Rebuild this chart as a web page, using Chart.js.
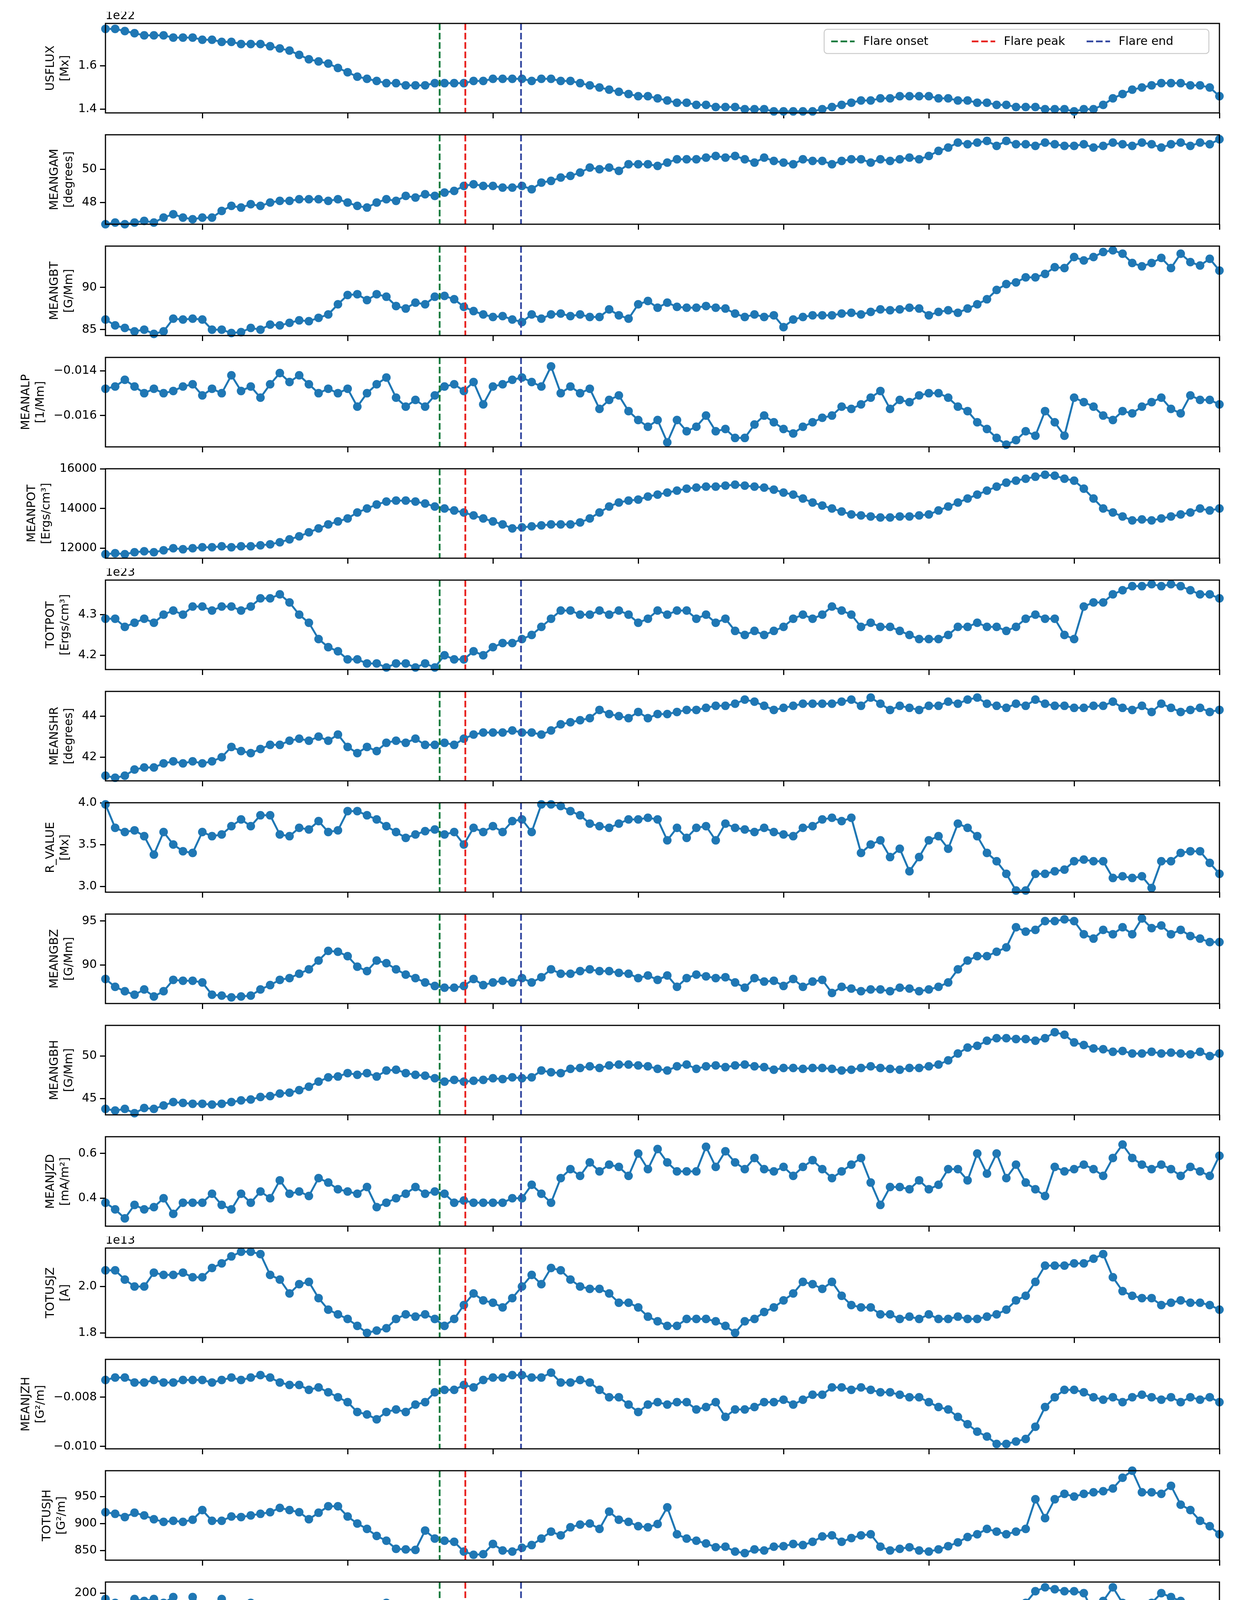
<!DOCTYPE html>
<html><head><meta charset="utf-8">
<script src="https://cdn.jsdelivr.net/npm/chart.js@4.4.0/dist/chart.umd.min.js"></script>
<style>html,body{margin:0;padding:0;background:#fff;}#wrap{position:relative;width:3167px;height:4685px;}canvas{position:absolute;left:0;}</style>
</head><body><div id="wrap"></div>
<script>
const xTicks=[3,6,9,12,15,18,21,24];
const xTickLabels=['03:00','06:00','09:00','12:00','15:00','18:00','21:00','00:00'];
const flareTimes=[7.9,8.43,9.58];
const flareNames=['Flare onset','Flare peak','Flare end'];
const flareColors=['#157a3c','#e8201c','#3347a0'];

const usflux=[1.77,1.77,1.76,1.75,1.74,1.74,1.74,1.73,1.73,1.73,1.72,1.72,1.71,1.71,1.70,1.70,1.70,1.69,1.68,1.67,1.65,1.63,1.62,1.61,1.59,1.57,1.55,1.54,1.53,1.52,1.52,1.51,1.51,1.51,1.52,1.52,1.52,1.52,1.53,1.53,1.54,1.54,1.54,1.54,1.53,1.54,1.54,1.53,1.53,1.52,1.51,1.50,1.49,1.48,1.47,1.46,1.46,1.45,1.44,1.43,1.43,1.42,1.42,1.41,1.41,1.41,1.40,1.40,1.40,1.39,1.39,1.39,1.39,1.39,1.40,1.41,1.42,1.43,1.44,1.44,1.45,1.45,1.46,1.46,1.46,1.46,1.45,1.45,1.44,1.44,1.43,1.43,1.42,1.42,1.41,1.41,1.41,1.40,1.40,1.40,1.39,1.40,1.40,1.42,1.45,1.47,1.49,1.50,1.51,1.52,1.52,1.52,1.51,1.51,1.50,1.46];
const meangam=[46.7,46.8,46.7,46.8,46.9,46.8,47.1,47.3,47.1,47.0,47.1,47.1,47.5,47.8,47.7,47.9,47.8,48.0,48.1,48.1,48.2,48.2,48.2,48.1,48.2,48.0,47.8,47.7,48.0,48.2,48.1,48.4,48.3,48.5,48.4,48.6,48.7,49.0,49.1,49.0,49.0,48.9,48.9,49.0,48.8,49.2,49.3,49.5,49.6,49.8,50.1,50.0,50.1,49.9,50.3,50.3,50.3,50.2,50.4,50.6,50.6,50.6,50.7,50.8,50.7,50.8,50.6,50.4,50.7,50.5,50.4,50.3,50.6,50.5,50.5,50.3,50.5,50.6,50.6,50.4,50.6,50.5,50.6,50.7,50.6,50.8,51.1,51.3,51.6,51.5,51.6,51.7,51.4,51.7,51.5,51.5,51.4,51.6,51.5,51.4,51.4,51.5,51.3,51.4,51.6,51.5,51.4,51.6,51.5,51.3,51.5,51.6,51.4,51.6,51.5,51.8];
const meangbt=[86.2,85.5,85.2,84.8,85.0,84.5,84.8,86.3,86.2,86.3,86.2,85.0,85.0,84.6,84.7,85.2,85.0,85.6,85.5,85.8,86.1,86.0,86.4,86.8,88.0,89.1,89.2,88.5,89.2,88.9,87.8,87.5,88.2,88.0,88.9,89.0,88.6,87.7,87.2,86.8,86.5,86.6,86.2,85.9,86.8,86.3,86.8,86.9,86.6,86.8,86.5,86.5,87.4,86.7,86.3,88.0,88.4,87.6,88.2,87.7,87.6,87.6,87.8,87.6,87.5,86.9,86.5,86.8,86.5,86.7,85.3,86.2,86.5,86.7,86.7,86.7,86.9,87.0,86.8,87.1,87.4,87.3,87.4,87.6,87.5,86.7,87.1,87.3,87.0,87.5,88.0,88.6,89.7,90.4,90.6,91.2,91.2,91.6,92.4,92.3,93.6,93.2,93.6,94.2,94.4,94.0,92.9,92.5,92.9,93.5,92.3,94.0,93.0,92.6,93.4,92.0];
const meanalp=[-0.0148,-0.0147,-0.0144,-0.0147,-0.0150,-0.0148,-0.0150,-0.0149,-0.0147,-0.0146,-0.0151,-0.0148,-0.0150,-0.0142,-0.0149,-0.0147,-0.0152,-0.0146,-0.0141,-0.0145,-0.0142,-0.0146,-0.0150,-0.0148,-0.0150,-0.0148,-0.0156,-0.0150,-0.0146,-0.0143,-0.0152,-0.0156,-0.0153,-0.0156,-0.0151,-0.0147,-0.0146,-0.0149,-0.0145,-0.0155,-0.0147,-0.0146,-0.0144,-0.0143,-0.0145,-0.0147,-0.0138,-0.0150,-0.0147,-0.0150,-0.0148,-0.0157,-0.0153,-0.0151,-0.0158,-0.0162,-0.0165,-0.0162,-0.0172,-0.0162,-0.0167,-0.0165,-0.0160,-0.0167,-0.0166,-0.0170,-0.0170,-0.0164,-0.0160,-0.0163,-0.0166,-0.0168,-0.0165,-0.0163,-0.0161,-0.0160,-0.0156,-0.0157,-0.0155,-0.0152,-0.0149,-0.0157,-0.0153,-0.0154,-0.0151,-0.0150,-0.0150,-0.0152,-0.0156,-0.0158,-0.0163,-0.0166,-0.0170,-0.0173,-0.0171,-0.0167,-0.0169,-0.0158,-0.0163,-0.0169,-0.0152,-0.0154,-0.0156,-0.0160,-0.0162,-0.0158,-0.0159,-0.0156,-0.0154,-0.0152,-0.0157,-0.0159,-0.0151,-0.0153,-0.0153,-0.0155];
const meanpot=[11700,11750,11700,11800,11850,11800,11900,12000,11950,12000,12050,12050,12100,12050,12100,12100,12150,12200,12300,12450,12600,12800,13000,13200,13350,13500,13800,14000,14200,14350,14400,14400,14350,14250,14100,14000,13900,13800,13650,13500,13350,13200,13000,13050,13100,13150,13200,13200,13200,13300,13500,13800,14100,14300,14400,14450,14600,14700,14800,14900,15000,15050,15100,15100,15150,15200,15150,15100,15050,14950,14800,14700,14500,14300,14150,14000,13850,13700,13650,13600,13550,13550,13600,13600,13650,13700,13900,14100,14300,14500,14700,14900,15100,15300,15400,15500,15600,15700,15650,15500,15400,15000,14500,14000,13800,13600,13400,13450,13400,13500,13600,13700,13800,14000,13900,14000];
const totpot=[4.29,4.29,4.27,4.28,4.29,4.28,4.30,4.31,4.30,4.32,4.32,4.31,4.32,4.32,4.31,4.32,4.34,4.34,4.35,4.33,4.30,4.28,4.24,4.22,4.21,4.19,4.19,4.18,4.18,4.17,4.18,4.18,4.17,4.18,4.17,4.20,4.19,4.19,4.21,4.20,4.22,4.23,4.23,4.24,4.25,4.27,4.29,4.31,4.31,4.30,4.30,4.31,4.30,4.31,4.30,4.28,4.29,4.31,4.30,4.31,4.31,4.29,4.30,4.28,4.29,4.26,4.25,4.26,4.25,4.26,4.27,4.29,4.30,4.29,4.30,4.32,4.31,4.30,4.27,4.28,4.27,4.27,4.26,4.25,4.24,4.24,4.24,4.25,4.27,4.27,4.28,4.27,4.27,4.26,4.27,4.29,4.30,4.29,4.29,4.25,4.24,4.32,4.33,4.33,4.35,4.36,4.37,4.37,4.375,4.37,4.375,4.37,4.36,4.35,4.35,4.34];
const meanshr=[41.1,41.0,41.1,41.4,41.5,41.5,41.7,41.8,41.7,41.8,41.7,41.8,42.0,42.5,42.3,42.2,42.4,42.6,42.6,42.8,42.9,42.8,43.0,42.8,43.1,42.5,42.2,42.5,42.3,42.7,42.8,42.7,42.9,42.6,42.6,42.7,42.6,42.9,43.1,43.2,43.2,43.2,43.3,43.2,43.2,43.1,43.3,43.6,43.7,43.8,43.9,44.3,44.1,44.0,43.9,44.2,43.9,44.1,44.1,44.2,44.3,44.3,44.4,44.5,44.5,44.6,44.8,44.7,44.5,44.3,44.4,44.5,44.6,44.6,44.6,44.6,44.7,44.8,44.5,44.9,44.6,44.3,44.5,44.4,44.3,44.5,44.5,44.7,44.6,44.8,44.9,44.6,44.5,44.4,44.6,44.5,44.8,44.6,44.5,44.5,44.4,44.4,44.5,44.5,44.7,44.4,44.3,44.5,44.2,44.6,44.4,44.2,44.3,44.4,44.2,44.3];
const rvalue=[3.98,3.70,3.65,3.67,3.60,3.38,3.65,3.50,3.42,3.40,3.65,3.60,3.62,3.72,3.80,3.72,3.85,3.85,3.62,3.60,3.70,3.68,3.78,3.65,3.67,3.90,3.90,3.85,3.80,3.72,3.65,3.58,3.62,3.66,3.68,3.62,3.65,3.50,3.70,3.65,3.72,3.65,3.78,3.80,3.65,3.98,3.98,3.96,3.90,3.85,3.75,3.72,3.70,3.75,3.80,3.80,3.82,3.80,3.55,3.70,3.58,3.70,3.72,3.55,3.75,3.70,3.68,3.65,3.70,3.65,3.62,3.60,3.70,3.72,3.80,3.82,3.78,3.82,3.40,3.50,3.55,3.35,3.45,3.18,3.35,3.55,3.60,3.45,3.75,3.70,3.60,3.40,3.30,3.15,2.95,2.95,3.15,3.15,3.18,3.20,3.30,3.32,3.30,3.30,3.10,3.12,3.10,3.12,2.98,3.30,3.30,3.40,3.42,3.42,3.28,3.15];
const meangbz=[88.4,87.5,87.0,86.6,87.2,86.4,87.0,88.3,88.2,88.2,88.0,86.6,86.5,86.3,86.4,86.5,87.2,87.7,88.3,88.5,89.0,89.5,90.5,91.6,91.5,91.0,89.8,89.3,90.5,90.2,89.5,88.9,88.5,88.0,87.6,87.4,87.4,87.6,88.4,87.7,88.0,88.2,88.0,88.5,88.0,88.6,89.5,89.0,89.0,89.3,89.5,89.3,89.3,89.1,89.0,88.5,88.8,88.3,88.8,87.5,88.5,88.9,88.7,88.5,88.6,88.0,87.4,88.5,88.1,88.2,87.6,88.4,87.5,88.1,88.3,86.8,87.5,87.3,87.0,87.2,87.2,87.0,87.4,87.3,87.0,87.2,87.5,88.0,89.5,90.5,91.0,91.0,91.5,92.0,94.3,93.8,94.0,95.0,95.0,95.2,95.0,93.5,93.0,94.0,93.5,94.3,93.5,95.3,94.2,94.5,93.5,94.0,93.3,93.0,92.6,92.6];
const meangbh=[43.8,43.6,43.8,43.3,43.9,43.8,44.2,44.6,44.5,44.4,44.4,44.3,44.4,44.6,44.8,44.9,45.2,45.3,45.6,45.7,46.0,46.4,47.0,47.5,47.6,48.0,47.8,48.0,47.6,48.3,48.4,48.0,47.8,47.7,47.4,47.0,47.2,47.0,47.1,47.2,47.4,47.3,47.5,47.4,47.5,48.3,48.1,48.0,48.5,48.6,48.8,48.6,48.9,49.0,49.0,48.9,48.8,48.5,48.3,48.8,49.0,48.5,48.8,48.9,48.7,48.9,49.0,48.8,48.7,48.4,48.6,48.6,48.5,48.6,48.6,48.5,48.3,48.4,48.6,48.8,48.6,48.5,48.4,48.6,48.6,48.8,49.0,49.5,50.3,51.0,51.2,51.8,52.1,52.1,52.0,52.0,51.8,52.1,52.8,52.5,51.6,51.3,50.9,50.8,50.5,50.6,50.3,50.3,50.5,50.3,50.4,50.3,50.2,50.5,50.0,50.3];
const meanjzd=[0.38,0.35,0.31,0.37,0.35,0.36,0.40,0.33,0.38,0.38,0.38,0.42,0.37,0.35,0.42,0.38,0.43,0.40,0.48,0.42,0.43,0.41,0.49,0.47,0.44,0.43,0.42,0.45,0.36,0.38,0.40,0.42,0.45,0.42,0.43,0.42,0.38,0.39,0.38,0.38,0.38,0.38,0.40,0.40,0.46,0.42,0.38,0.49,0.53,0.50,0.56,0.52,0.55,0.54,0.50,0.60,0.53,0.62,0.56,0.52,0.52,0.52,0.63,0.54,0.61,0.56,0.53,0.58,0.53,0.52,0.54,0.50,0.54,0.57,0.53,0.49,0.52,0.55,0.58,0.47,0.37,0.45,0.45,0.44,0.48,0.44,0.46,0.53,0.53,0.48,0.60,0.51,0.60,0.49,0.55,0.47,0.44,0.41,0.54,0.52,0.53,0.55,0.53,0.50,0.58,0.64,0.58,0.55,0.53,0.55,0.53,0.50,0.54,0.52,0.50,0.59];
const totusjz=[2.07,2.07,2.03,2.00,2.00,2.06,2.05,2.05,2.06,2.04,2.04,2.08,2.10,2.13,2.15,2.15,2.14,2.05,2.03,1.97,2.01,2.02,1.95,1.90,1.88,1.86,1.83,1.80,1.81,1.82,1.86,1.88,1.87,1.88,1.86,1.83,1.86,1.92,1.97,1.94,1.93,1.91,1.95,2.00,2.05,2.01,2.08,2.07,2.03,2.00,1.99,1.99,1.97,1.93,1.93,1.91,1.87,1.85,1.83,1.83,1.86,1.86,1.86,1.85,1.83,1.80,1.85,1.86,1.89,1.91,1.94,1.97,2.02,2.01,1.99,2.02,1.96,1.92,1.91,1.91,1.88,1.88,1.86,1.87,1.86,1.88,1.86,1.86,1.87,1.86,1.86,1.87,1.88,1.90,1.94,1.96,2.02,2.09,2.09,2.09,2.10,2.10,2.12,2.14,2.04,1.98,1.96,1.95,1.95,1.92,1.93,1.94,1.93,1.93,1.92,1.90];
const meanjzh=[-0.0073,-0.0072,-0.0072,-0.0074,-0.0074,-0.0073,-0.0074,-0.0074,-0.0073,-0.0073,-0.0073,-0.0074,-0.0073,-0.0072,-0.0073,-0.0072,-0.0071,-0.0072,-0.0074,-0.0075,-0.0075,-0.0077,-0.0076,-0.0078,-0.0080,-0.0082,-0.0086,-0.0087,-0.0089,-0.0086,-0.0085,-0.0086,-0.0083,-0.0082,-0.0078,-0.0077,-0.0077,-0.0075,-0.0076,-0.0073,-0.0072,-0.0072,-0.0071,-0.0071,-0.0072,-0.0072,-0.0070,-0.0074,-0.0074,-0.0073,-0.0074,-0.0077,-0.0080,-0.0080,-0.0083,-0.0086,-0.0083,-0.0082,-0.0083,-0.0082,-0.0082,-0.0085,-0.0084,-0.0082,-0.0088,-0.0085,-0.0085,-0.0084,-0.0082,-0.0082,-0.0081,-0.0083,-0.0081,-0.0079,-0.0079,-0.0076,-0.0076,-0.0077,-0.0076,-0.0077,-0.0078,-0.0078,-0.0079,-0.0080,-0.0080,-0.0082,-0.0084,-0.0085,-0.0088,-0.0091,-0.0094,-0.0096,-0.0099,-0.0099,-0.0098,-0.0097,-0.0092,-0.0084,-0.0080,-0.0077,-0.0077,-0.0078,-0.0080,-0.0081,-0.0080,-0.0082,-0.0080,-0.0079,-0.0080,-0.0081,-0.0080,-0.0082,-0.0080,-0.0081,-0.0080,-0.0082];
const totusjh=[921,918,912,920,915,908,903,905,903,907,925,905,905,913,912,915,918,921,929,925,921,908,920,932,932,913,900,890,877,868,853,852,851,887,872,868,866,848,842,843,862,850,848,855,860,872,885,878,893,898,900,890,922,907,903,895,893,899,930,880,872,868,863,856,857,848,845,852,850,857,858,862,860,866,876,878,866,873,878,880,857,850,853,856,850,848,852,858,865,875,880,890,885,880,885,890,945,910,945,955,950,955,958,960,965,985,998,958,958,955,970,935,925,905,895,880];
const absnjzh=[197,195,191,197,196,197,195,198,190,198,193,190,197,186,188,195,183,186,181,190,184,181,189,178,188,177,175,190,178,195,190,180,187,182,188,185,177,180,176,185,176,173,172,168,172,170,174,163,176,173,176,172,182,177,173,178,188,178,183,186,177,185,183,172,176,178,174,182,176,175,181,186,181,178,177,176,175,169,173,182,181,178,177,176,169,173,182,177,171,175,177,180,181,183,188,195,201,203,202,201,201,200,190,196,203,195,190,192,195,200,198,196,190,192,193,193];
const savncpp=[8.8,7.4,7.2,7.5,7.5,8.7,8.3,7.0,7.5,7.1,6.8,6.3,6.8,7.6,6.3,6.8,7.0,5.9,6.8,7.0,6.8,7.6,6.5,6.5,6.0,6.3,5.8,5.4,5.5,6.7,7.0,5.5,5.2,6.5,5.8,5.6,5.6,5.6,5.7,5.7,5.6,6.4,6.2,6.3,6.6,6.2,5.5,5.4,5.5,6.2,6.0,5.8,6.5,6.1,6.2,6.2,6.5,6.7,6.8,6.0,6.2,6.6,6.3,5.6,6.3,6.5,6.0,6.5,6.7,5.9,6.6,6.3,6.0,6.5,6.5,6.8,6.3,6.5,7.8,5.8,4.8,5.8,5.6,5.6,5.9,5.3,5.8,6.2,6.4,6.1,5.6,5.2,5.2,5.0,4.9,4.8,5.1,4.7,6.1,6.4,6.5,6.9,8.4,7.8,7.5,7.4,7.3,7.0,6.9,7.1,7.2,7.0,6.8,7.1,7.3,7.4];

const panels=[
 ['USFLUX','[Mx]',usflux,1.383,1.795,[1.4,1.6],1,'1e22'],
 ['MEANGAM','[degrees]',meangam,46.7,52.07,[48,50],0,''],
 ['MEANGBT','[G/Mm]',meangbt,84.3,94.9,[85,90],0,''],
 ['MEANALP','[1/Mm]',meanalp,-0.0174,-0.0134,[-0.016,-0.014],3,''],
 ['MEANPOT','[Ergs/cm³]',meanpot,11500,16000,[12000,14000,16000],0,''],
 ['TOTPOT','[Ergs/cm³]',totpot,4.165,4.385,[4.2,4.3],1,'1e23'],
 ['MEANSHR','[degrees]',meanshr,40.85,45.2,[42,44],0,''],
 ['R_VALUE','[Mx]',rvalue,2.93,4.0,[3.0,3.5,4.0],1,''],
 ['MEANGBZ','[G/Mm]',meangbz,85.6,95.8,[90,95],0,''],
 ['MEANGBH','[G/Mm]',meangbh,43.1,53.6,[45,50],0,''],
 ['MEANJZD','[mA/m²]',meanjzd,0.275,0.675,[0.4,0.6],1,''],
 ['TOTUSJZ','[A]',totusjz,1.78,2.166,[1.8,2.0],1,'1e13'],
 ['MEANJZH','[G²/m]',meanjzh,-0.0101,-0.00646,[-0.010,-0.008],3,''],
 ['TOTUSJH','[G²/m]',totusjh,832,998,[850,900,950],0,''],
 ['ABSNJZH','[G²/m]',absnjzh,160,205.7,[160,180,200],0,''],
 ['SAVNCPP','[A]',savncpp,4.72,8.82,[6,8],0,'1e12']
];

const FONT='"DejaVu Sans", sans-serif';
const wrap=document.getElementById('wrap');
const times=usflux.map((_,i)=>1+i*0.2);

panels.forEach((p,k)=>{
  const [name,unit,arr,ymin,ymax,yt,dec,expo]=p;
  const last=k===panels.length-1;
  const cv=document.createElement('canvas');
  const H=last?380:285;
  cv.width=3167;cv.height=H;
  cv.style.top=(30+285*k)+'px';cv.style.width='3167px';cv.style.height=H+'px';
  wrap.appendChild(cv);
  const fmt=v=>v.toFixed(dec).replace('-','\u2212');
  const deco={id:'deco'+k,
    afterDatasetsDraw(c){
      const ctx=c.ctx,a=c.chartArea,xs=c.scales.x;
      ctx.save();
      ctx.lineWidth=4.5;ctx.setLineDash([17,7]);
      flareTimes.forEach((t,j)=>{const x=xs.getPixelForValue(t);ctx.strokeStyle=flareColors[j];ctx.beginPath();ctx.moveTo(x,a.top);ctx.lineTo(x,a.bottom);ctx.stroke();});
      ctx.setLineDash([]);
      ctx.strokeStyle='#000';ctx.lineWidth=3;ctx.strokeRect(a.left,a.top,a.right-a.left,a.bottom-a.top);
      ctx.fillStyle='#000';ctx.font='30px '+FONT;
      if(expo){ctx.textAlign='left';ctx.textBaseline='bottom';ctx.fillText(expo,a.left,a.top-4);}
      let w=0;yt.forEach(v=>{w=Math.max(w,ctx.measureText(fmt(v)).width);});
      const xr=a.left-14-10-w-14;
      const cy=(a.top+a.bottom)/2;
      [[unit,xr-17],[name,xr-17-37]].forEach(([txt,x])=>{ctx.save();ctx.translate(x,cy);ctx.rotate(-Math.PI/2);ctx.textAlign='center';ctx.textBaseline='middle';ctx.fillText(txt,0,0);ctx.restore();});
      if(k===0){
        ctx.fillStyle='rgba(255,255,255,0.85)';ctx.strokeStyle='#cccccc';ctx.lineWidth=2.5;
        ctx.beginPath();ctx.roundRect(2110,45,985,62,8);ctx.fill();ctx.stroke();
        const sx=[2128,2488,2782];
        flareNames.forEach((n,j)=>{ctx.strokeStyle=flareColors[j];ctx.lineWidth=4.5;ctx.setLineDash([17,7]);ctx.beginPath();ctx.moveTo(sx[j],76);ctx.lineTo(sx[j]+60,76);ctx.stroke();ctx.setLineDash([]);ctx.fillStyle='#000';ctx.textAlign='left';ctx.textBaseline='middle';ctx.fillText(n,sx[j]+82,77);});
      }
      ctx.restore();
    }};
  new Chart(cv,{type:'line',
    data:{datasets:[{data:times.map((t,i)=>({x:t,y:arr[i]})),borderColor:'#1f77b4',backgroundColor:'#1f77b4',borderWidth:5,pointRadius:11,pointBorderWidth:0,pointHoverRadius:11,tension:0,clip:14}]},
    options:{responsive:false,devicePixelRatio:1,animation:false,
      layout:{padding:{left:0,right:45,top:30,bottom:0}},
      plugins:{legend:{display:false},tooltip:{enabled:false}},
      scales:{
        x:{type:'linear',min:1,max:24,afterFit:s=>{s.height=last?112:17;},
          afterBuildTicks:s=>{s.ticks=xTicks.map(v=>({value:v}));},
          ticks:{display:last,autoSkip:false,maxRotation:0,color:'#000',font:{family:FONT,size:30},padding:4,callback:(v)=>xTickLabels[xTicks.indexOf(v)]},
          grid:{drawOnChartArea:false,drawTicks:true,tickLength:14,tickWidth:3,tickColor:'#000'},
          border:{display:false},
          title:{display:last,text:'Time (UT)',color:'#000',font:{family:FONT,size:30},padding:{top:6,bottom:4}}},
        y:{min:ymin,max:ymax,afterFit:s=>{s.width=270;},
          afterBuildTicks:s=>{s.ticks=yt.map(v=>({value:v}));},
          ticks:{color:'#000',font:{family:FONT,size:30},padding:8,callback:v=>fmt(v)},
          grid:{drawOnChartArea:false,drawTicks:true,tickLength:14,tickWidth:3,tickColor:'#000'},
          border:{display:false}}
      }},
    plugins:[deco]});
});
</script></body></html>
